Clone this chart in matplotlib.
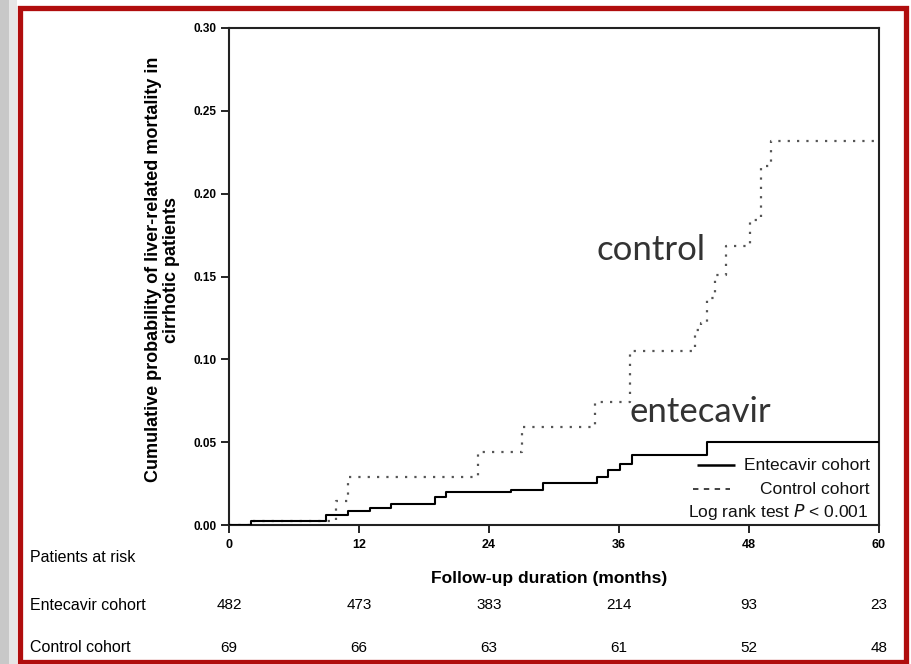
import matplotlib
matplotlib.use("Agg")
import matplotlib.pyplot as plt
from matplotlib.patches import Rectangle
import matplotlib.transforms as mtransforms

# ---- data ----
ent_months = [0, 2, 9, 11, 13, 15, 19, 20, 26, 29, 34, 35, 36.1, 37.2, 44.1, 60]
ent_prob = [0, 0.0024, 0.006, 0.0084, 0.0104, 0.0126, 0.017, 0.020, 0.0214, 0.0256,
            0.029, 0.0330, 0.0370, 0.0425, 0.0499, 0.0499]
ctl_months = [0, 2, 9.9, 11, 23, 27, 33.8, 37, 43, 43.6, 44.1, 44.9, 45.9, 48.1, 49.1, 50.0, 60]
ctl_prob = [0, 0.0024, 0.0145, 0.029, 0.0439, 0.0593, 0.0745, 0.1048, 0.118, 0.122, 0.137,
            0.151, 0.1687, 0.184, 0.2166, 0.2318, 0.2318]

x_ticks = [0, 12, 24, 36, 48, 60]
y_ticks = [0.00, 0.05, 0.10, 0.15, 0.20, 0.25, 0.30]
y_tick_labels = ["0.00", "0.05", "0.10", "0.15", "0.20", "0.25", "0.30"]

risk_times = [0, 12, 24, 36, 48, 60]
risk_entecavir = [482, 473, 383, 214, 93, 23]
risk_control = [69, 66, 63, 61, 52, 48]

sans = ["Liberation Sans", "DejaVu Sans"]

fig = plt.figure(figsize=(9.12, 6.64), dpi=100)
fig.patch.set_facecolor("white")

# left shadow strip and red frame
fig.patches.append(Rectangle((0, 0), 9 / 912, 1, transform=fig.transFigure,
                             facecolor="#c8c8c8", edgecolor="none", zorder=0))
fig.patches.append(Rectangle((9 / 912, 0), 8 / 912, 1, transform=fig.transFigure,
                             facecolor="#e6e6e6", edgecolor="none", zorder=0))
fig.patches.append(Rectangle((20.5 / 912, 2.5 / 664), (906.5 - 20.5) / 912, (656 - 2.5) / 664,
                             transform=fig.transFigure, facecolor="none",
                             edgecolor="#b00d0d", linewidth=3.8, zorder=5))

ax = fig.add_axes([229 / 912, 1 - 525 / 664, 650 / 912, 497 / 664])

ax.step(ent_months, ent_prob, where="post", color="black", linewidth=1.5, zorder=3)
ax.step(ctl_months, ctl_prob, where="post", color="#555555", linewidth=1.6,
        linestyle=(0, (1, 3.2)), zorder=2)

ax.set_xlim(0, 60)
ax.set_ylim(0, 0.30)
ax.set_xticks(x_ticks)
ax.set_xticklabels([str(t) for t in x_ticks], family=sans, fontweight="bold", fontsize=9)
ax.set_yticks(y_ticks)
ax.set_yticklabels(y_tick_labels, family=sans, fontweight="bold", fontsize=8.5)
ax.tick_params(axis="both", direction="out", length=6, width=1.2, color="black")
ax.tick_params(axis="y", pad=3)
ax.tick_params(axis="x", pad=4)
for s in ax.spines.values():
    s.set_linewidth(1.5)
    s.set_color("#222222")

ax.set_ylabel("Cumulative probability of liver-related mortality in\ncirrhotic patients",
              family=sans, fontweight="bold", fontsize=13, linespacing=1.05)
ax.yaxis.set_label_coords(-0.076, 0.514)
ax.set_xlabel("Follow-up duration (months)", family=sans, fontweight="bold", fontsize=12.5)
ax.xaxis.set_label_coords(0.4925, -0.093)

# annotations
ax.text(33.9, 0.160, "control", family=["Lato", "DejaVu Sans"], fontsize=25,
        color="#333333", ha="left", va="baseline")
ax.text(37.0, 0.0619, "entecavir", family=["Lato", "DejaVu Sans"], fontsize=25,
        color="#333333", ha="left", va="baseline")

# legend (drawn manually)
ax.plot([0.720, 0.778], [0.1207, 0.1207], transform=ax.transAxes, color="black",
        linewidth=1.8, solid_capstyle="butt")
ax.text(0.986, 0.1207, "Entecavir cohort", transform=ax.transAxes, ha="right",
        va="center", family=sans, fontsize=12.5, color="#111111")
ax.plot([0.714, 0.771], [0.0724, 0.0724], transform=ax.transAxes, color="#333333",
        linewidth=1.3, linestyle=(0, (3, 3)))
ax.text(0.986, 0.0724, "Control cohort", transform=ax.transAxes, ha="right",
        va="center", family=sans, fontsize=12.5, color="#111111")
ax.text(0.983, 0.026, r"Log rank test $\mathit{P}$ < 0.001", transform=ax.transAxes,
        ha="right", va="center", family=sans, fontsize=12.5, color="#111111")

# patients at risk table
trans = mtransforms.blended_transform_factory(ax.transData, fig.transFigure)
fig.text(30 / 912, 1 - 558 / 664, "Patients at risk", family=sans, fontsize=11.5,
         ha="left", va="center")
fig.text(30 / 912, 1 - 605 / 664, "Entecavir cohort", family=sans, fontsize=11.5,
         ha="left", va="center")
fig.text(30 / 912, 1 - 648 / 664, "Control cohort", family=sans, fontsize=11.5,
         ha="left", va="center")
for t, n in zip(risk_times, risk_entecavir):
    ax.text(t, 1 - 605 / 664, str(n), transform=trans, family=sans, fontsize=11,
            ha="center", va="center", clip_on=False)
for t, n in zip(risk_times, risk_control):
    ax.text(t, 1 - 648 / 664, str(n), transform=trans, family=sans, fontsize=11,
            ha="center", va="center", clip_on=False)

fig.savefig("out.png", dpi=100)
